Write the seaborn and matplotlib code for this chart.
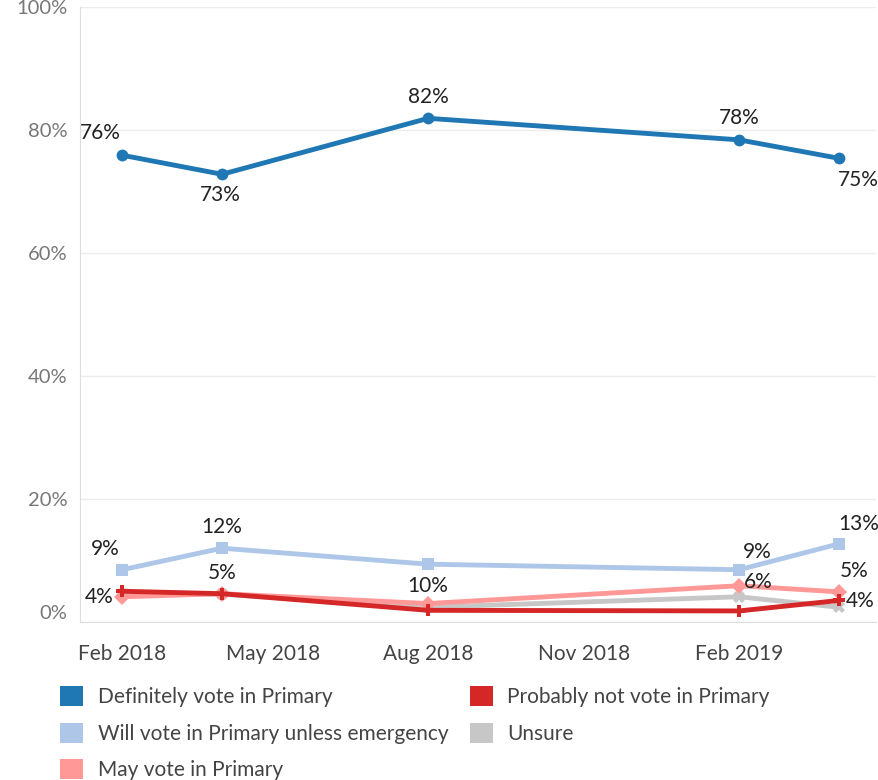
import matplotlib
matplotlib.use("Agg")
import matplotlib.pyplot as plt
import matplotlib.dates as mdates
from matplotlib.patches import Patch
import seaborn as sns
import pandas as pd

# ---- data ----
dates = ["2018-02-01", "2018-04-01", "2018-08-01", "2019-02-01", "2019-04-01"]
series_names = [
    "Definitely vote in Primary",
    "Will vote in Primary unless emergency",
    "May vote in Primary",
    "Probably not vote in Primary",
    "Unsure",
]
definitely = [75.9, 72.8, 81.9, 78.4, 75.4]
will_vote = [8.5, 12.0, 9.4, 8.5, 12.7]
may_vote = [4.1, 4.6, 3.0, 5.9, 4.9]
probably_not = [5.0, 4.6, 1.9, 1.8, 3.5]
unsure = [4.6, 4.5, 2.4, 4.1, 2.4]

labels_definitely = ["76%", "73%", "82%", "78%", "75%"]
labels_will = ["9%", "12%", "10%", "9%", "13%"]
labels_may = ["4%", "5%", None, "6%", "5%"]
labels_prob = [None, None, None, None, "4%"]
labels_unsure = [None, None, None, None, None]

y_ticks = [0, 20, 40, 60, 80, 100]
y_ticklabels = ["0%", "20%", "40%", "60%", "80%", "100%"]

colors = {
    "Definitely vote in Primary": "#1f77b4",
    "Will vote in Primary unless emergency": "#aec7e8",
    "May vote in Primary": "#ff9896",
    "Probably not vote in Primary": "#d62728",
    "Unsure": "#c7c7c7",
}
markers = {
    "Definitely vote in Primary": "o",
    "Will vote in Primary unless emergency": "s",
    "May vote in Primary": "D",
    "Probably not vote in Primary": "P",
    "Unsure": "X",
}

values = {
    "Definitely vote in Primary": definitely,
    "Will vote in Primary unless emergency": will_vote,
    "May vote in Primary": may_vote,
    "Probably not vote in Primary": probably_not,
    "Unsure": unsure,
}
label_map = {
    "Definitely vote in Primary": labels_definitely,
    "Will vote in Primary unless emergency": labels_will,
    "May vote in Primary": labels_may,
    "Probably not vote in Primary": labels_prob,
    "Unsure": labels_unsure,
}

rows = []
for s in series_names:
    for d, v in zip(dates, values[s]):
        rows.append({"date": pd.Timestamp(d), "value": v, "series": s})
df = pd.DataFrame(rows)

# ---- style ----
sns.set_style("white")
plt.rcParams["font.family"] = ["Lato", "DejaVu Sans"]

fig = plt.figure(figsize=(8.79, 7.80), dpi=100)
ax = fig.add_axes([80 / 879, 1 - 622 / 780, (876 - 80) / 879, (622 - 7) / 780])

draw_order = [
    "Definitely vote in Primary",
    "Will vote in Primary unless emergency",
    "Unsure",
    "May vote in Primary",
    "Probably not vote in Primary",
]
for s in draw_order:
    sub = df[df["series"] == s]
    sns.lineplot(data=sub, x="date", y="value", color=colors[s], marker=markers[s],
                 markersize=8.5, markeredgewidth=0, linewidth=3.5, ax=ax, legend=False)

# data labels (offsets in pixels)
offsets = {
    "Definitely vote in Primary": [(-22, 22), (-2, -21), (0, 21), (0, 22), (19, -22)],
    "Will vote in Primary unless emergency": [(-17, 21), (0, 21), (0, -22), (18, 18), (20, 20)],
    "May vote in Primary": [(-23, 0), (0, 21), (0, 0), (19, 4), (15, 21)],
    "Probably not vote in Primary": [(0, 0)] * 4 + [(21, -1)],
    "Unsure": [(0, 0)] * 5,
}
for s in series_names:
    for d, v, lab, off in zip(dates, values[s], label_map[s], offsets[s]):
        if lab is None:
            continue
        ax.annotate(lab, (mdates.date2num(pd.Timestamp(d)), v), xytext=off,
                    textcoords="offset pixels", ha="center", va="center",
                    fontsize=15, color="#222222")

# axes
ax.set_xlim(mdates.date2num(pd.Timestamp("2018-01-07")), mdates.date2num(pd.Timestamp("2019-04-23")))
ax.set_ylim(0, 100)
ax.set_yticks(y_ticks)
ax.set_yticklabels(y_ticklabels)
ax.yaxis.grid(True, color="#ececec", linewidth=1)
ax.set_axisbelow(True)
ax.tick_params(axis="y", length=0, pad=9, labelsize=14.5, labelcolor="#777777")
for lbl in ax.get_yticklabels():
    if lbl.get_text() == "0%":
        lbl.set_va("bottom")

ax.xaxis.set_major_locator(mdates.MonthLocator(bymonth=[2, 5, 8, 11]))
ax.xaxis.set_major_formatter(mdates.DateFormatter("%b %Y"))
ax.xaxis.set_minor_locator(mdates.MonthLocator())
ax.tick_params(axis="x", which="major", length=7, width=1.2, color="#222222",
               labelsize=15, labelcolor="#444444", pad=9, direction="out")
ax.tick_params(axis="x", which="minor", length=3, width=1.2, color="#222222", direction="out")
ax.set_xlabel("")
ax.set_ylabel("")

for side in ["top", "right"]:
    ax.spines[side].set_visible(False)
ax.spines["left"].set_color("#dddddd")
ax.spines["bottom"].set_color("#dddddd")

# legend (two columns placed explicitly)
col1 = ["Definitely vote in Primary", "Will vote in Primary unless emergency", "May vote in Primary"]
col2 = ["Probably not vote in Primary", "Unsure"]
leg_kw = dict(loc="upper left", frameon=False, fontsize=15, handlelength=1.1, handleheight=1.1,
              handletextpad=0.7, labelspacing=0.75, borderaxespad=0, borderpad=0)
leg1 = fig.legend([Patch(facecolor=colors[s], edgecolor="none") for s in col1], col1,
                  bbox_to_anchor=(60 / 879, 1 - 686 / 780), **leg_kw)
leg2 = fig.legend([Patch(facecolor=colors[s], edgecolor="none") for s in col2], col2,
                  bbox_to_anchor=(470 / 879, 1 - 686 / 780), **leg_kw)
for lg in (leg1, leg2):
    for t in lg.get_texts():
        t.set_color("#444444")

fig.savefig("out.png", dpi=100)
